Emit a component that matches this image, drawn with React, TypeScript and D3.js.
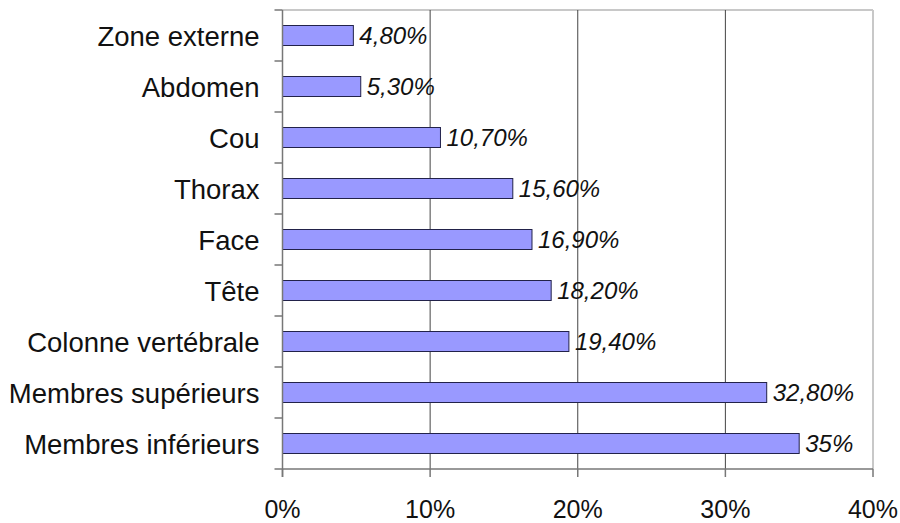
import React from "react";
import * as d3 from "d3";

const categories = [
  "Zone externe",
  "Abdomen",
  "Cou",
  "Thorax",
  "Face",
  "Tête",
  "Colonne vertébrale",
  "Membres supérieurs",
  "Membres inférieurs",
];
const values = [4.8, 5.3, 10.7, 15.6, 16.9, 18.2, 19.4, 32.8, 35];
const valueLabels = ["4,80%", "5,30%", "10,70%", "15,60%", "16,90%", "18,20%", "19,40%", "32,80%", "35%"];
const xTicks = [0, 10, 20, 30, 40];
const xTickLabels = ["0%", "10%", "20%", "30%", "40%"];

const W = 900;
const H = 523;
const left = 282.5;
const right = 873;
const top = 10;
const bottom = 469;
const font = "Liberation Sans, Arial, sans-serif";

export default function App() {
  const x = d3.scaleLinear().domain([0, 40]).range([left, right]);
  const y = d3.scaleBand<string>().domain(categories).range([top, bottom]);
  const bw = y.bandwidth();
  const barH = 20;

  return (
    <svg
      width={W}
      height={H}
      style={{ position: "absolute", left: 0, top: 0, background: "#fff" }}
    >
      {/* plot border (top/right light) */}
      <line x1={left} x2={right} y1={top} y2={top} stroke="#c8c8c8" strokeWidth={2} />
      <line x1={right} x2={right} y1={top} y2={bottom} stroke="#c8c8c8" strokeWidth={2} />
      {/* gridlines */}
      {xTicks.slice(1, -1).map((t) => (
        <line key={t} x1={x(t)} x2={x(t)} y1={top} y2={bottom} stroke="#444" strokeWidth={1} />
      ))}
      {/* bars */}
      {categories.map((c, i) => (
        <rect
          key={c}
          x={x(0)}
          y={(y(c) as number) + bw / 2 - barH / 2}
          width={x(values[i]) - x(0)}
          height={barH}
          fill="#9999ff"
          stroke="#22224a"
          strokeWidth={1}
        />
      ))}
      {/* value labels */}
      {categories.map((c, i) => (
        <text
          key={c}
          x={x(values[i]) + 6}
          y={(y(c) as number) + bw / 2 + 8}
          fontFamily={font}
          fontStyle="italic"
          fontSize={24}
          fill="#111"
        >
          {valueLabels[i]}
        </text>
      ))}
      {/* y axis */}
      <line x1={left} x2={left} y1={top} y2={bottom + 8} stroke="#777" strokeWidth={1.5} />
      {d3.range(categories.length + 1).map((k) => (
        <line
          key={k}
          x1={left - 8}
          x2={left}
          y1={top + k * bw}
          y2={top + k * bw}
          stroke="#777"
          strokeWidth={1.5}
        />
      ))}
      {categories.map((c) => (
        <text
          key={c}
          x={259.5}
          y={(y(c) as number) + bw / 2 + 10}
          textAnchor="end"
          fontFamily={font}
          fontSize={27.5}
          fill="#111"
        >
          {c}
        </text>
      ))}
      {/* x axis */}
      <line x1={left} x2={right} y1={bottom} y2={bottom} stroke="#777" strokeWidth={1.5} />
      {xTicks.map((t, i) => (
        <g key={t}>
          <line x1={x(t)} x2={x(t)} y1={bottom} y2={bottom + 8} stroke="#777" strokeWidth={1.5} />
          <text
            x={x(t)}
            y={518}
            textAnchor="middle"
            fontFamily={font}
            fontSize={25}
            fill="#111"
          >
            {xTickLabels[i]}
          </text>
        </g>
      ))}
    </svg>
  );
}
